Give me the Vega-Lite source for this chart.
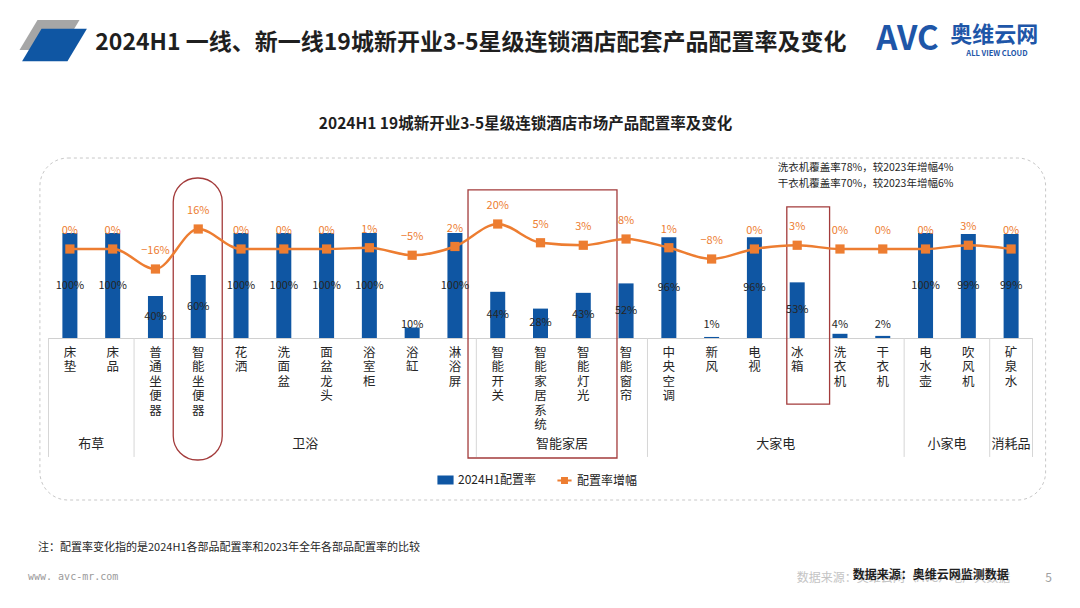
{
  "$schema": "https://vega.github.io/schema/vega-lite/v6.json",
  "width": 984,
  "height": 210,
  "autosize": {"type": "none"},
  "padding": {"left": 48.5, "top": 128, "right": 47.5, "bottom": 270},
  "background": "white",
  "config": {
    "view": {"stroke": null},
    "font": "Noto Sans CJK SC",
    "text": {"font": "Noto Sans CJK SC"},
    "axisX": {"titleColor": "transparent"}
  },
  "datasets": {
    "items": [
      {"cat": "床垫", "rate": 1.00, "change": 0.00},
      {"cat": "床品", "rate": 1.00, "change": 0.00},
      {"cat": "普通坐便器", "rate": 0.40, "change": -0.16},
      {"cat": "智能坐便器", "rate": 0.60, "change": 0.16},
      {"cat": "花洒", "rate": 1.00, "change": 0.00},
      {"cat": "洗面盆", "rate": 1.00, "change": 0.00},
      {"cat": "面盆龙头", "rate": 1.00, "change": 0.00},
      {"cat": "浴室柜", "rate": 1.00, "change": 0.01},
      {"cat": "浴缸", "rate": 0.10, "change": -0.05},
      {"cat": "淋浴屏", "rate": 1.00, "change": 0.02},
      {"cat": "智能开关", "rate": 0.44, "change": 0.20},
      {"cat": "智能家居系统", "rate": 0.28, "change": 0.05},
      {"cat": "智能灯光", "rate": 0.43, "change": 0.03},
      {"cat": "智能窗帘", "rate": 0.52, "change": 0.08},
      {"cat": "中央空调", "rate": 0.96, "change": 0.01},
      {"cat": "新风", "rate": 0.01, "change": -0.08},
      {"cat": "电视", "rate": 0.96, "change": 0.00},
      {"cat": "冰箱", "rate": 0.53, "change": 0.03},
      {"cat": "洗衣机", "rate": 0.04, "change": 0.00},
      {"cat": "干衣机", "rate": 0.02, "change": 0.00},
      {"cat": "电水壶", "rate": 1.00, "change": 0.00},
      {"cat": "吹风机", "rate": 0.99, "change": 0.03},
      {"cat": "矿泉水", "rate": 0.99, "change": 0.00}
    ],
    "groups": [
      {"group": "布草", "first": "床垫", "last": "床品", "mid": "床品", "n": 2},
      {"group": "卫浴", "first": "普通坐便器", "last": "淋浴屏", "mid": "面盆龙头", "n": 8},
      {"group": "智能家居", "first": "智能开关", "last": "智能窗帘", "mid": "智能灯光", "n": 4},
      {"group": "大家电", "first": "中央空调", "last": "干衣机", "mid": "冰箱", "n": 6},
      {"group": "小家电", "first": "电水壶", "last": "吹风机", "mid": "吹风机", "n": 2},
      {"group": "消耗品", "first": "矿泉水", "last": "矿泉水", "mid": "矿泉水", "n": 1}
    ]
  },
  "layer": [
    {
      "layer": [
        {
          "data": {"values": [{}]},
          "mark": {"type": "point", "shape": "M-0.4,-0.5L1,-0.5L0.4,0.5L-1,0.5Z", "filled": true, "fill": "#a6a6a6", "opacity": 1, "size": 3600, "xOffset": 1},
          "encoding": {
            "x": {"datum": "床垫", "type": "nominal", "bandPosition": 0, "title": null},
            "y": {"datum": 2.886, "type": "quantitative", "axis": null}
          }
        },
        {
          "data": {"values": [{}]},
          "mark": {"type": "point", "shape": "M-0.4,-0.5L1,-0.5L0.4,0.5L-1,0.5Z", "filled": true, "fill": "#0F56A3", "opacity": 1, "size": 4200, "xOffset": 6},
          "encoding": {
            "x": {"datum": "床垫", "type": "nominal", "bandPosition": 0, "title": null},
            "y": {"datum": 2.79, "type": "quantitative", "axis": null}
          }
        },
        {
          "data": {"values": [{}]},
          "mark": {"type": "rect", "filled": false, "stroke": "#c8c8c8", "strokeDash": [3, 3], "strokeWidth": 1, "cornerRadius": 28, "xOffset": -30, "x2Offset": 34.5},
          "encoding": {
            "x": {"datum": "床垫", "type": "nominal", "title": null},
            "x2": {"datum": "矿泉水"},
            "y": {"datum": 1.714, "type": "quantitative", "axis": null},
            "y2": {"datum": -1.543}
          }
        },
        {
          "data": {"values": [{}]},
          "mark": {"type": "rect", "filled": false, "stroke": "#A33B3B", "strokeWidth": 1.3, "cornerRadius": 24, "xOffset": -25, "x2Offset": 24},
          "encoding": {
            "x": {"datum": "智能坐便器", "type": "nominal", "title": null},
            "x2": {"datum": "智能坐便器"},
            "y": {"datum": 1.524, "type": "quantitative", "axis": null},
            "y2": {"datum": -1.162}
          }
        },
        {
          "data": {"values": [{}]},
          "mark": {"type": "rect", "filled": false, "stroke": "#A33B3B", "strokeWidth": 1.3, "xOffset": -29.7, "x2Offset": 33.7},
          "encoding": {
            "x": {"datum": "智能开关", "type": "nominal", "title": null},
            "x2": {"datum": "智能灯光"},
            "y": {"datum": 1.41, "type": "quantitative", "axis": null},
            "y2": {"datum": -1.143}
          }
        },
        {
          "data": {"values": [{}]},
          "mark": {"type": "rect", "filled": false, "stroke": "#A33B3B", "strokeWidth": 1.3, "xOffset": 11, "x2Offset": 11},
          "encoding": {
            "x": {"datum": "冰箱", "type": "nominal", "title": null},
            "y": {"datum": 1.248, "type": "quantitative", "axis": null},
            "y2": {"datum": -0.629}
          }
        },
        {
          "data": {"name": "groups"},
          "mark": {"type": "rule", "stroke": "#d6d6d6", "strokeWidth": 1},
          "encoding": {
            "x": {"field": "first", "type": "nominal", "bandPosition": 0, "title": null},
            "y": {"datum": 0, "type": "quantitative", "axis": null},
            "y2": {"datum": -1.133}
          }
        },
        {
          "data": {"name": "groups"},
          "transform": [{"filter": "datum.last === '矿泉水'"}],
          "mark": {"type": "rule", "stroke": "#d6d6d6", "strokeWidth": 1},
          "encoding": {
            "x": {"field": "last", "type": "nominal", "bandPosition": 1, "title": null},
            "y": {"datum": 0, "type": "quantitative", "axis": null},
            "y2": {"datum": -1.133}
          }
        },
        {
          "data": {"name": "items"},
          "mark": {"type": "bar", "size": 15},
          "encoding": {
            "x": {
              "field": "cat",
              "type": "nominal",
              "title": null,
              "scale": {
                "domain": ["床垫", "床品", "普通坐便器", "智能坐便器", "花洒", "洗面盆", "面盆龙头", "浴室柜", "浴缸", "淋浴屏", "智能开关", "智能家居系统", "智能灯光", "智能窗帘", "中央空调", "新风", "电视", "冰箱", "洗衣机", "干衣机", "电水壶", "吹风机", "矿泉水"],
                "paddingInner": 0,
                "paddingOuter": 0
              },
              "axis": {
                "title": null,
                "labelAngle": 0,
                "labelAlign": "center",
                "labelExpr": "split(datum.label, '')",
                "ticks": false,
                "grid": false,
                "domainColor": "#d0d0d0",
                "labelFontSize": 12.5,
                "labelLineHeight": 14.5,
                "labelBaseline": "top",
                "labelPadding": 8,
                "labelColor": "#262626",
                "labelOverlap": false,
                "labelLimit": 0
              }
            },
            "y": {"field": "rate", "type": "quantitative", "scale": {"domain": [0, 2], "nice": false, "zero": false}, "axis": null},
            "color": {
              "datum": "2024H1配置率",
              "type": "nominal",
              "scale": {"domain": ["2024H1配置率", "配置率增幅"], "range": ["#0F56A3", "#ED7D31"]},
              "legend": {
                "title": null,
                "orient": "none",
                "direction": "horizontal",
                "legendX": 388.5,
                "legendY": 343,
                "padding": 0,
                "columnPadding": 16,
                "labelFontSize": 12,
                "labelColor": "#222222",
                "labelOffset": 4,
                "symbolSize": 200,
                "encode": {
                  "symbols": {
                    "update": {
                      "shape": {"signal": "datum.value === '2024H1配置率' ? 'M-1,-0.5H1V0.5H-1Z' : 'M-1,0H1M-0.35,-0.35H0.35V0.35H-0.35Z'"},
                      "fill": {"scale": "color", "field": "value"},
                      "stroke": {"scale": "color", "field": "value"},
                      "strokeWidth": {"value": 2}
                    }
                  }
                }
              }
            }
          }
        },
        {
          "data": {"name": "items"},
          "transform": [{"filter": "datum.rate < 0.2"}],
          "mark": {"type": "text", "fontSize": 11, "fill": "#262626", "baseline": "middle"},
          "encoding": {
            "x": {"field": "cat", "type": "nominal", "title": null},
            "y": {"datum": 0.124, "type": "quantitative", "axis": null},
            "text": {"field": "rate", "type": "quantitative", "format": ".0%"}
          }
        },
        {
          "data": {"name": "groups"},
          "transform": [{"filter": "datum.n % 2 === 0"}],
          "mark": {"type": "text", "fontSize": 13, "fill": "#262626", "baseline": "middle"},
          "encoding": {
            "x": {"field": "mid", "type": "nominal", "bandPosition": 0, "title": null},
            "y": {"datum": -1.01, "type": "quantitative", "axis": null},
            "text": {"field": "group", "type": "nominal"}
          }
        },
        {
          "data": {"name": "groups"},
          "transform": [{"filter": "datum.n % 2 === 1"}],
          "mark": {"type": "text", "fontSize": 13, "fill": "#262626", "baseline": "middle"},
          "encoding": {
            "x": {"field": "mid", "type": "nominal", "bandPosition": 0.5, "title": null},
            "y": {"datum": -1.01, "type": "quantitative", "axis": null},
            "text": {"field": "group", "type": "nominal"}
          }
        },
        {
          "data": {"values": [{}]},
          "mark": {"type": "text", "text": "2024H1  一线、新一线19城新开业3-5星级连锁酒店配套产品配置率及变化", "fontSize": 23, "fontWeight": "bold", "fill": "#1f1f1f", "align": "left", "baseline": "middle", "dx": 4},
          "encoding": {
            "x": {"datum": "床品", "type": "nominal", "bandPosition": 0, "title": null},
            "y": {"datum": 2.81, "type": "quantitative", "axis": null}
          }
        },
        {
          "data": {"values": [{}]},
          "mark": {"type": "text", "text": "AVC", "fontSize": 33, "fontWeight": "bold", "fill": "#1E56A8", "align": "left", "baseline": "middle", "dx": 15},
          "encoding": {
            "x": {"datum": "干衣机", "type": "nominal", "bandPosition": 0, "title": null},
            "y": {"datum": 2.838, "type": "quantitative", "axis": null}
          }
        },
        {
          "data": {"values": [{}]},
          "mark": {"type": "text", "text": "奥维云网", "fontSize": 22, "fontWeight": "bold", "fill": "#1E56A8", "align": "left", "baseline": "middle", "dx": 89},
          "encoding": {
            "x": {"datum": "干衣机", "type": "nominal", "bandPosition": 0, "title": null},
            "y": {"datum": 2.881, "type": "quantitative", "axis": null}
          }
        },
        {
          "data": {"values": [{}]},
          "mark": {"type": "text", "text": "ALL VIEW CLOUD", "fontSize": 7.5, "fontWeight": "bold", "fill": "#1E56A8", "align": "left", "baseline": "middle", "dx": 105},
          "encoding": {
            "x": {"datum": "干衣机", "type": "nominal", "bandPosition": 0, "title": null},
            "y": {"datum": 2.705, "type": "quantitative", "axis": null}
          }
        },
        {
          "data": {"values": [{}]},
          "mark": {"type": "text", "text": "2024H1 19城新开业3-5星级连锁酒店市场产品配置率及变化", "fontSize": 15.5, "fontWeight": "bold", "fill": "#1f1f1f", "align": "center", "baseline": "middle", "dx": -15},
          "encoding": {
            "x": {"datum": "智能家居系统", "type": "nominal", "title": null},
            "y": {"datum": 2.038, "type": "quantitative", "axis": null}
          }
        },
        {
          "data": {"values": [{}]},
          "mark": {"type": "text", "text": ["洗衣机覆盖率78%，较2023年增幅4%", "干衣机覆盖率70%，较2023年增幅6%"], "lineHeight": 16, "fontSize": 10.5, "fill": "#262626", "align": "left", "baseline": "middle", "dx": 2},
          "encoding": {
            "x": {"datum": "冰箱", "type": "nominal", "bandPosition": 0, "title": null},
            "y": {"datum": 1.619, "type": "quantitative", "axis": null}
          }
        },
        {
          "data": {"values": [{}]},
          "mark": {"type": "text", "text": "注：配置率变化指的是2024H1各部品配置率和2023年全年各部品配置率的比较", "fontSize": 11, "fill": "#1f1f1f", "align": "left", "baseline": "middle", "dx": -10.5},
          "encoding": {
            "x": {"datum": "床垫", "type": "nominal", "bandPosition": 0, "title": null},
            "y": {"datum": -2.0, "type": "quantitative", "axis": null}
          }
        },
        {
          "data": {"values": [{}]},
          "mark": {"type": "text", "text": "www. avc-mr.com", "fontSize": 10, "font": "DejaVu Sans Mono", "fill": "#9a9a9a", "align": "left", "baseline": "middle", "dx": -20.5},
          "encoding": {
            "x": {"datum": "床垫", "type": "nominal", "bandPosition": 0, "title": null},
            "y": {"datum": -2.276, "type": "quantitative", "axis": null}
          }
        },
        {
          "data": {"values": [{}]},
          "mark": {"type": "text", "text": "数据来源：奥维云网（AVC）地产大数据", "fontSize": 12, "fill": "#c4c4c4", "align": "left", "baseline": "middle", "dx": 21},
          "encoding": {
            "x": {"datum": "冰箱", "type": "nominal", "bandPosition": 0, "title": null},
            "y": {"datum": -2.286, "type": "quantitative", "axis": null}
          }
        },
        {
          "data": {"values": [{}]},
          "mark": {"type": "text", "text": "数据来源：奥维云网监测数据", "fontSize": 12, "fontWeight": "bold", "fill": "#1f1f1f", "align": "right", "baseline": "middle", "dx": 19},
          "encoding": {
            "x": {"datum": "矿泉水", "type": "nominal", "bandPosition": 0, "title": null},
            "y": {"datum": -2.257, "type": "quantitative", "axis": null}
          }
        },
        {
          "data": {"values": [{}]},
          "mark": {"type": "text", "text": "5", "fontSize": 12, "fill": "#a0a0a0", "align": "center", "baseline": "middle", "dx": 16},
          "encoding": {
            "x": {"datum": "矿泉水", "type": "nominal", "bandPosition": 1, "title": null},
            "y": {"datum": -2.286, "type": "quantitative", "axis": null}
          }
        }
      ]
    },
    {
      "data": {"name": "items"},
      "transform": [{"filter": "datum.rate >= 0.2"}],
      "mark": {"type": "text", "fontSize": 11, "fill": "#262626", "baseline": "middle"},
      "encoding": {
        "x": {"field": "cat", "type": "nominal", "title": null},
        "y": {"field": "rate", "type": "quantitative", "scale": {"domain": [0, 4], "nice": false, "zero": false}, "axis": null},
        "text": {"field": "rate", "type": "quantitative", "format": ".0%"}
      }
    },
    {
      "layer": [
        {
          "data": {"name": "items"},
          "mark": {"type": "line", "interpolate": "monotone", "strokeWidth": 2.5},
          "encoding": {
            "x": {"field": "cat", "type": "nominal", "title": null},
            "y": {"field": "change", "type": "quantitative", "scale": {"domain": [-0.712, 0.968], "nice": false, "zero": false}, "axis": null},
            "color": {"datum": "配置率增幅", "type": "nominal"}
          }
        },
        {
          "data": {"name": "items"},
          "mark": {"type": "point", "shape": "square", "filled": true, "size": 85, "opacity": 1},
          "encoding": {
            "x": {"field": "cat", "type": "nominal", "title": null},
            "y": {"field": "change", "type": "quantitative", "axis": null},
            "color": {"datum": "配置率增幅", "type": "nominal"}
          }
        },
        {
          "data": {"name": "items"},
          "mark": {"type": "text", "fontSize": 11, "fill": "#ED7D31", "baseline": "middle", "dy": -18},
          "encoding": {
            "x": {"field": "cat", "type": "nominal", "title": null},
            "y": {"field": "change", "type": "quantitative", "axis": null},
            "text": {"field": "change", "type": "quantitative", "format": ".0%"}
          }
        }
      ]
    }
  ],
  "resolve": {"scale": {"y": "independent"}}
}
